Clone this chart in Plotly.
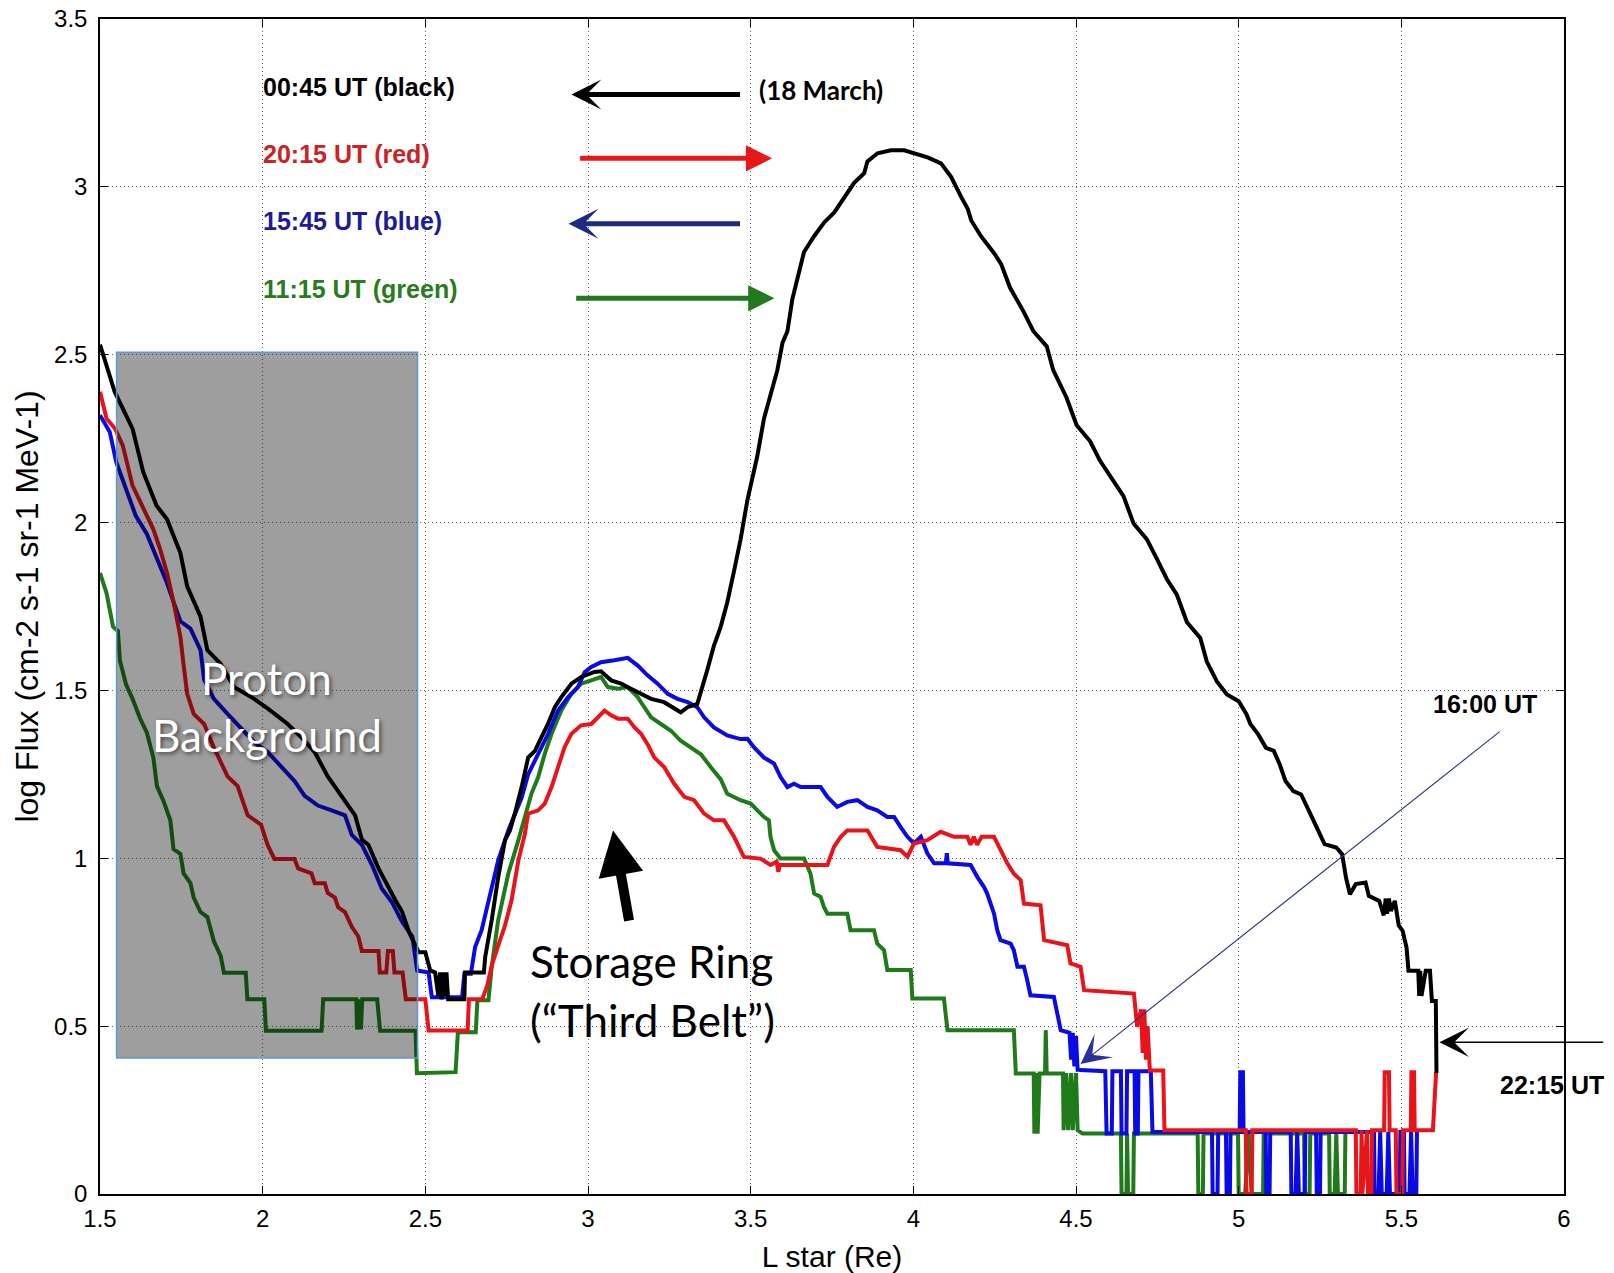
import plotly.graph_objects as go

# ---- axis ticks -------------------------------------------------------
x_ticks = [1.5, 2, 2.5, 3, 3.5, 4, 4.5, 5, 5.5, 6]
x_ticktext = ["1.5", "2", "2.5", "3", "3.5", "4", "4.5", "5", "5.5", "6"]
y_ticks = [0, 0.5, 1, 1.5, 2, 2.5, 3, 3.5]
y_ticktext = ["0", "0.5", "1", "1.5", "2", "2.5", "3", "3.5"]

# ---- 00:45 UT (black) -------------------------------------------------
black_L = [1.500, 1.520, 1.545, 1.575, 1.600, 1.633, 1.655, 1.674, 1.706, 1.730,
           1.747, 1.768, 1.790, 1.809, 1.830, 1.870, 1.912, 1.974, 2.016, 2.077,
           2.119, 2.160, 2.200, 2.243, 2.284, 2.305, 2.325, 2.356, 2.387, 2.408,
           2.429, 2.450, 2.470, 2.480, 2.500, 2.515, 2.530, 2.540, 2.545, 2.550,
           2.555, 2.560, 2.565, 2.570, 2.620, 2.622, 2.680, 2.684, 2.704, 2.724,
           2.745, 2.760, 2.775, 2.796, 2.816, 2.837, 2.857, 2.877, 2.898, 2.918,
           2.949, 2.979, 3.020, 3.040, 3.071, 3.102, 3.132, 3.163, 3.194, 3.234,
           3.265, 3.285, 3.306, 3.336, 3.367, 3.387, 3.408, 3.428, 3.449, 3.469,
           3.490, 3.505, 3.520, 3.541, 3.562, 3.582, 3.598, 3.613, 3.628, 3.649,
           3.664, 3.695, 3.726, 3.757, 3.787, 3.818, 3.849, 3.859, 3.890, 3.931,
           3.972, 4.003, 4.044, 4.085, 4.116, 4.147, 4.167, 4.178, 4.208, 4.250,
           4.270, 4.297, 4.338, 4.369, 4.410, 4.430, 4.471, 4.502, 4.543, 4.574,
           4.605, 4.646, 4.677, 4.718, 4.749, 4.779, 4.810, 4.841, 4.882, 4.902,
           4.933, 4.964, 5.000, 5.024, 5.036, 5.060, 5.084, 5.108, 5.126, 5.144,
           5.168, 5.192, 5.216, 5.240, 5.264, 5.300, 5.318, 5.330, 5.342, 5.360,
           5.390, 5.400, 5.432, 5.446, 5.452, 5.456, 5.462, 5.468, 5.480, 5.492,
           5.504, 5.516, 5.522, 5.552, 5.555, 5.558, 5.562, 5.575, 5.588, 5.594,
           5.606, 5.608]
black_F = [2.53, 2.47, 2.39, 2.33, 2.28, 2.15, 2.10, 2.05, 2.01, 1.95,
           1.91, 1.81, 1.76, 1.72, 1.62, 1.58, 1.51, 1.475, 1.446, 1.40,
           1.36, 1.316, 1.244, 1.186, 1.128, 1.056, 1.04, 0.97, 0.91, 0.875,
           0.84, 0.78, 0.74, 0.72, 0.72, 0.666, 0.66, 0.59, 0.66, 0.58,
           0.66, 0.59, 0.66, 0.58, 0.58, 0.66, 0.66, 0.706, 0.816, 0.944,
           1.054, 1.083, 1.133, 1.212, 1.30, 1.32, 1.361, 1.40, 1.45, 1.48,
           1.52, 1.54, 1.555, 1.557, 1.53, 1.52, 1.505, 1.49, 1.475, 1.465,
           1.445, 1.435, 1.45, 1.46, 1.562, 1.633, 1.69, 1.762, 1.856, 1.95,
           2.067, 2.137, 2.196, 2.31, 2.385, 2.454, 2.536, 2.57, 2.665, 2.748,
           2.806, 2.853, 2.894, 2.924, 2.965, 3.012, 3.041, 3.076, 3.10, 3.109,
           3.109, 3.10, 3.088, 3.07, 3.03, 2.97, 2.935, 2.90, 2.853, 2.80,
           2.77, 2.70, 2.63, 2.57, 2.525, 2.454, 2.372, 2.29, 2.243, 2.184,
           2.137, 2.079, 1.997, 1.95, 1.891, 1.832, 1.785, 1.703, 1.656, 1.586,
           1.527, 1.488, 1.468, 1.429, 1.40, 1.369, 1.329, 1.32, 1.28, 1.23,
           1.20, 1.19, 1.141, 1.091, 1.042, 1.032, 1.012, 0.942, 0.893, 0.923,
           0.928, 0.888, 0.873, 0.83, 0.88, 0.835, 0.88, 0.843, 0.873, 0.80,
           0.784, 0.734, 0.665, 0.665, 0.59, 0.665, 0.59, 0.665, 0.665, 0.575,
           0.575, 0.36]

# ---- 15:45 UT (blue) --------------------------------------------------
blue_L = [1.500, 1.530, 1.550, 1.580, 1.610, 1.644, 1.674, 1.706, 1.726, 1.747,
          1.778, 1.809, 1.820, 1.850, 1.892, 1.933, 1.974, 2.016, 2.057, 2.098,
          2.129, 2.170, 2.212, 2.253, 2.274, 2.305, 2.336, 2.366, 2.398, 2.429,
          2.460, 2.475, 2.510, 2.520, 2.613, 2.620, 2.640, 2.653, 2.673, 2.694,
          2.724, 2.755, 2.775, 2.796, 2.816, 2.847, 2.877, 2.908, 2.939, 2.969,
          2.990, 3.010, 3.040, 3.081, 3.122, 3.153, 3.183, 3.214, 3.245, 3.275,
          3.306, 3.336, 3.357, 3.387, 3.428, 3.469, 3.490, 3.510, 3.541, 3.572,
          3.592, 3.613, 3.633, 3.654, 3.715, 3.736, 3.766, 3.797, 3.828, 3.859,
          3.889, 3.920, 3.941, 3.961, 3.982, 4.002, 4.023, 4.043, 4.064, 4.100,
          4.103, 4.106, 4.176, 4.197, 4.217, 4.227, 4.248, 4.258, 4.268, 4.299,
          4.309, 4.320, 4.340, 4.350, 4.360, 4.432, 4.442, 4.453, 4.480, 4.485,
          4.490, 4.495, 4.500, 4.505, 4.514, 4.590, 4.594, 4.610, 4.612, 4.638,
          4.640, 4.655, 4.657, 4.680, 4.682, 4.690, 4.692, 4.730, 4.735, 4.918,
          4.920, 4.935, 4.937, 4.961, 4.963, 4.973, 4.975, 5.003, 5.005, 5.013,
          5.015, 5.083, 5.085, 5.095, 5.097, 5.160, 5.162, 5.175, 5.180, 5.185,
          5.203, 5.205, 5.238, 5.240, 5.250, 5.252, 5.416, 5.418, 5.430, 5.435,
          5.440, 5.455, 5.460, 5.465, 5.495, 5.497, 5.508, 5.510, 5.525, 5.530,
          5.535, 5.546, 5.548]
blue_F = [2.32, 2.27, 2.18, 2.10, 2.02, 1.966, 1.894, 1.82, 1.764, 1.706,
          1.684, 1.62, 1.532, 1.475, 1.43, 1.39, 1.346, 1.316, 1.273, 1.23,
          1.186, 1.157, 1.143, 1.128, 1.07, 1.04, 0.98, 0.91, 0.868, 0.81,
          0.767, 0.666, 0.66, 0.586, 0.586, 0.656, 0.656, 0.736, 0.786, 0.875,
          0.994, 1.083, 1.133, 1.18, 1.25, 1.31, 1.37, 1.44, 1.48, 1.51,
          1.555, 1.57, 1.584, 1.59, 1.597, 1.574, 1.545, 1.52, 1.49, 1.475,
          1.465, 1.45, 1.42, 1.39, 1.366, 1.355, 1.356, 1.331, 1.30, 1.282,
          1.242, 1.212, 1.222, 1.212, 1.212, 1.183, 1.153, 1.168, 1.173, 1.153,
          1.143, 1.123, 1.123, 1.093, 1.064, 1.044, 1.064, 1.015, 0.985, 0.985,
          1.015, 0.985, 0.98, 0.944, 0.915, 0.895, 0.835, 0.786, 0.756, 0.746,
          0.726, 0.677, 0.677, 0.637, 0.592, 0.587, 0.538, 0.488, 0.48, 0.40,
          0.48, 0.38, 0.47, 0.37, 0.369, 0.366, 0.18, 0.18, 0.366, 0.366,
          0.18, 0.18, 0.366, 0.366, 0.18, 0.18, 0.366, 0.366, 0.185, 0.185,
          0.0, 0.0, 0.185, 0.185, 0.0, 0.0, 0.185, 0.185, 0.363, 0.363,
          0.185, 0.185, 0.0, 0.0, 0.185, 0.185, 0.0, 0.0, 0.185, 0.0,
          0.0, 0.185, 0.185, 0.0, 0.0, 0.185, 0.185, 0.0, 0.0, 0.185,
          0.0, 0.0, 0.185, 0.0, 0.0, 0.185, 0.185, 0.0, 0.0, 0.185,
          0.0, 0.0, 0.185]

# ---- 20:15 UT (red) ---------------------------------------------------
red_L = [1.500, 1.520, 1.546, 1.570, 1.600, 1.633, 1.664, 1.685, 1.706, 1.726,
         1.747, 1.757, 1.768, 1.788, 1.820, 1.850, 1.892, 1.923, 1.954, 1.995,
         2.015, 2.036, 2.098, 2.109, 2.150, 2.160, 2.191, 2.200, 2.222, 2.232,
         2.253, 2.274, 2.294, 2.305, 2.356, 2.360, 2.380, 2.385, 2.400, 2.405,
         2.430, 2.440, 2.500, 2.510, 2.630, 2.634, 2.675, 2.690, 2.704, 2.724,
         2.745, 2.765, 2.786, 2.806, 2.816, 2.847, 2.867, 2.888, 2.908, 2.928,
         2.949, 2.979, 3.010, 3.030, 3.051, 3.071, 3.092, 3.122, 3.143, 3.163,
         3.183, 3.204, 3.234, 3.265, 3.296, 3.326, 3.357, 3.387, 3.418, 3.449,
         3.479, 3.530, 3.561, 3.580, 3.585, 3.590, 3.736, 3.756, 3.777, 3.797,
         3.859, 3.889, 3.961, 3.982, 4.002, 4.043, 4.084, 4.125, 4.166, 4.176,
         4.186, 4.196, 4.210, 4.248, 4.268, 4.289, 4.309, 4.330, 4.340, 4.391,
         4.402, 4.473, 4.483, 4.514, 4.525, 4.678, 4.688, 4.700, 4.705, 4.710,
         4.715, 4.720, 4.727, 4.768, 4.772, 5.022, 5.024, 5.040, 5.042, 5.360,
         5.362, 5.375, 5.378, 5.380, 5.395, 5.397, 5.408, 5.410, 5.447, 5.449,
         5.462, 5.464, 5.483, 5.485, 5.503, 5.505, 5.529, 5.531, 5.539, 5.541,
         5.597, 5.607]
red_F = [2.39, 2.31, 2.28, 2.23, 2.11, 2.04, 1.98, 1.92, 1.85, 1.764,
         1.66, 1.576, 1.49, 1.43, 1.40, 1.33, 1.244, 1.215, 1.128, 1.10,
         1.04, 0.998, 0.998, 0.97, 0.955, 0.926, 0.926, 0.897, 0.883, 0.854,
         0.84, 0.796, 0.767, 0.724, 0.724, 0.66, 0.66, 0.724, 0.724, 0.66,
         0.66, 0.58, 0.58, 0.487, 0.487, 0.58, 0.58, 0.62, 0.68, 0.74,
         0.80, 0.875, 0.994, 1.073, 1.133, 1.143, 1.163, 1.212, 1.272, 1.331,
         1.371, 1.396, 1.40, 1.42, 1.44, 1.426, 1.416, 1.416, 1.39, 1.371,
         1.34, 1.30, 1.272, 1.222, 1.183, 1.173, 1.133, 1.113, 1.113, 1.064,
         1.004, 0.999, 0.98, 0.99, 0.96, 0.98, 0.98, 1.034, 1.064, 1.083,
         1.083, 1.034, 1.024, 1.005, 1.044, 1.054, 1.079, 1.064, 1.064, 1.04,
         1.064, 1.04, 1.064, 1.064, 1.024, 0.985, 0.954, 0.935, 0.865, 0.86,
         0.756, 0.741, 0.687, 0.677, 0.607, 0.597, 0.498, 0.55, 0.42, 0.55,
         0.40, 0.50, 0.368, 0.368, 0.19, 0.19, 0.0, 0.0, 0.19, 0.19,
         0.0, 0.0, 0.19, 0.0, 0.19, 0.0, 0.0, 0.19, 0.19, 0.363,
         0.363, 0.19, 0.19, 0.0, 0.0, 0.19, 0.19, 0.363, 0.363, 0.19,
         0.19, 0.363]

# ---- 11:15 UT (green) -------------------------------------------------
green_L = [1.500, 1.520, 1.540, 1.555, 1.561, 1.580, 1.600, 1.623, 1.644, 1.664,
           1.675, 1.695, 1.716, 1.726, 1.747, 1.757, 1.778, 1.788, 1.809, 1.830,
           1.850, 1.871, 1.881, 1.948, 1.953, 2.005, 2.010, 2.181, 2.186, 2.288,
           2.290, 2.298, 2.302, 2.306, 2.352, 2.361, 2.470, 2.474, 2.593, 2.600,
           2.655, 2.660, 2.694, 2.704, 2.724, 2.755, 2.786, 2.806, 2.826, 2.847,
           2.867, 2.888, 2.918, 2.949, 2.979, 3.010, 3.040, 3.061, 3.092, 3.122,
           3.153, 3.173, 3.194, 3.224, 3.255, 3.285, 3.316, 3.347, 3.377, 3.408,
           3.428, 3.469, 3.500, 3.520, 3.541, 3.556, 3.561, 3.572, 3.592, 3.664,
           3.674, 3.684, 3.695, 3.715, 3.725, 3.736, 3.797, 3.807, 3.879, 3.889,
           3.910, 3.920, 3.992, 3.997, 4.094, 4.105, 4.309, 4.315, 4.370, 4.372,
           4.378, 4.382, 4.388, 4.405, 4.407, 4.410, 4.460, 4.462, 4.470, 4.476,
           4.485, 4.490, 4.500, 4.505, 4.520, 4.638, 4.640, 4.655, 4.657, 4.660,
           4.676, 4.678, 4.874, 4.876, 4.890, 4.892, 4.998, 5.000, 5.020, 5.030,
           5.040, 5.075, 5.077, 5.201, 5.203, 5.218, 5.220, 5.278, 5.280, 5.295,
           5.300, 5.305, 5.326, 5.328]
green_F = [1.85, 1.79, 1.69, 1.677, 1.59, 1.518, 1.475, 1.417, 1.374, 1.30,
           1.215, 1.171, 1.114, 1.027, 1.013, 0.955, 0.926, 0.883, 0.84, 0.825,
           0.753, 0.709, 0.659, 0.659, 0.58, 0.58, 0.486, 0.486, 0.58, 0.58,
           0.49, 0.58, 0.49, 0.58, 0.58, 0.486, 0.486, 0.36, 0.363, 0.482,
           0.482, 0.577, 0.577, 0.677, 0.816, 0.954, 1.054, 1.123, 1.192, 1.242,
           1.311, 1.371, 1.44, 1.49, 1.52, 1.53, 1.54, 1.51, 1.505, 1.51,
           1.48, 1.45, 1.42, 1.40, 1.38, 1.35, 1.33, 1.31, 1.272, 1.235,
           1.192, 1.173, 1.163, 1.143, 1.123, 1.113, 1.064, 1.024, 0.999, 0.999,
           0.975, 0.954, 0.895, 0.885, 0.855, 0.835, 0.835, 0.786, 0.786, 0.746,
           0.726, 0.667, 0.667, 0.582, 0.582, 0.488, 0.488, 0.359, 0.359, 0.18,
           0.36, 0.18, 0.359, 0.359, 0.488, 0.359, 0.359, 0.19, 0.36, 0.19,
           0.36, 0.19, 0.36, 0.19, 0.18, 0.18, 0.0, 0.0, 0.18, 0.0,
           0.0, 0.18, 0.18, 0.0, 0.0, 0.18, 0.18, 0.0, 0.0, 0.18,
           0.0, 0.0, 0.18, 0.18, 0.0, 0.0, 0.18, 0.18, 0.0, 0.0,
           0.18, 0.0, 0.0, 0.18]

series = [
    ("11:15 UT", green_L, green_F, "#1f7a1a"),
    ("15:45 UT", blue_L, blue_F, "#0a0ae6"),
    ("20:15 UT", red_L, red_F, "#e8141a"),
    ("00:45 UT", black_L, black_F, "#000000"),
]

fig = go.Figure()
for name, xs, ys, col in series:
    fig.add_trace(go.Scatter(x=xs, y=ys, mode="lines", name=name,
                             line=dict(color=col, width=4), showlegend=False))

# shaded proton-background region
fig.add_shape(type="rect", xref="x", yref="y", x0=1.551, x1=2.476, y0=0.405, y1=2.507,
              fillcolor="rgba(0,0,0,0.38)", line=dict(color="#5b9bd5", width=1.5),
              layer="above")

ann = []
label_font = "Liberation Sans, Arial, sans-serif"
callout_font = "Lato, Carlito, Calibri, sans-serif"

# pass labels and direction arrows
passes = [
    ("00:45 UT (black)", 3.297, "#000000", 3.472, 2.949, 3.275, "#000000", 3, 1.0),
    ("20:15 UT (red)", 3.098, "#cc2222", 2.971, 3.566, 3.085, "#e81818", 2, 1.05),
    ("15:45 UT (blue)", 2.899, "#1c1c96", 3.472, 2.940, 2.890, "#1c2a80", 3, 1.0),
    ("11:15 UT (green)", 2.697, "#2a7a1e", 2.959, 3.573, 2.668, "#237a1e", 2, 1.05),
]
for txt, ty, tcol, x_from, x_to, ay_, acol, head, hsize in passes:
    ann.append(dict(x=1.994, y=ty, xref="x", yref="y", text=txt, showarrow=False,
                    xanchor="left", yanchor="middle",
                    font=dict(family=label_font, size=25, color=tcol, weight="bold")))
    ann.append(dict(x=x_to, y=ay_, ax=x_from, ay=ay_, xref="x", yref="y",
                    axref="x", ayref="y", text="", showarrow=True,
                    arrowhead=head, arrowsize=hsize, arrowwidth=5, arrowcolor=acol))

ann.append(dict(x=3.519, y=3.29, xref="x", yref="y", text="(18 March)", showarrow=False,
                xanchor="left", yanchor="middle",
                font=dict(family=callout_font, size=26, color="#000000", weight="bold")))

# region callouts
for txt, ty in [("Proton", 1.536), ("Background", 1.367)]:
    ann.append(dict(x=2.012, y=ty, xref="x", yref="y", text=txt, showarrow=False,
                    xanchor="center", yanchor="middle",
                    font=dict(family=callout_font, size=44, color="#ffffff",
                              shadow="2px 2px 4px rgba(0,0,0,0.55)")))
for txt, ty in [("Storage Ring", 0.695), ("(\u201cThird Belt\u201d)", 0.517)]:
    ann.append(dict(x=2.816, y=ty, xref="x", yref="y", text=txt, showarrow=False,
                    xanchor="left", yanchor="middle",
                    font=dict(family=callout_font, size=44, color="#000000")))
ann.append(dict(x=3.077, y=1.083, ax=3.127, ay=0.81, xref="x", yref="y",
                axref="x", ayref="y", text="", showarrow=True,
                arrowhead=2, arrowsize=0.9, arrowwidth=10, arrowcolor="#000000"))

# time markers
ann.append(dict(x=5.592, y=1.459, xref="x", yref="y", text="16:00 UT", showarrow=False,
                xanchor="left", yanchor="middle",
                font=dict(family=label_font, size=25, color="#000000", weight="bold")))
ann.append(dict(x=4.514, y=0.387, ax=5.807, ay=1.381, xref="x", yref="y",
                axref="x", ayref="y", text="", showarrow=True,
                arrowhead=3, arrowsize=4.5, arrowwidth=1.1, arrowcolor="#2a2f9a"))
ann.append(dict(x=5.797, y=0.326, xref="x", yref="y", text="22:15 UT", showarrow=False,
                xanchor="left", yanchor="middle",
                font=dict(family=label_font, size=25, color="#000000", weight="bold")))
ann.append(dict(x=5.617, y=0.452, ax=6.125, ay=0.452, xref="x", yref="y",
                axref="x", ayref="y", text="", showarrow=True,
                arrowhead=3, arrowsize=3.8, arrowwidth=1.3, arrowcolor="#000000"))

grid = dict(showgrid=True, gridcolor="rgba(0,0,0,0.6)", gridwidth=1, griddash="1px,3px",
            zeroline=False, showline=True, linecolor="#000000", linewidth=1.5,
            mirror="ticks", ticks="inside", ticklen=8, tickcolor="#000000",
            automargin=False,
            tickfont=dict(family=label_font, size=24, color="#000000"))

fig.update_layout(
    width=1614, height=1273,
    margin=dict(l=100, r=50, t=19, b=79),
    paper_bgcolor="#ffffff", plot_bgcolor="#ffffff",
    xaxis=dict(range=[1.5, 6], tickvals=x_ticks, ticktext=x_ticktext,
               ticklabelstandoff=2,
               title=dict(text="L star (Re)", standoff=16,
                          font=dict(family=label_font, size=30, color="#000000")),
               **grid),
    yaxis=dict(range=[0, 3.5], tickvals=y_ticks, ticktext=y_ticktext,
               ticklabelstandoff=6,
               title=dict(text="log Flux (cm-2 s-1 sr-1 MeV-1)", standoff=6,
                          font=dict(family=label_font, size=32, color="#000000")),
               **grid),
    annotations=ann,
)

fig.write_html("out.html")
